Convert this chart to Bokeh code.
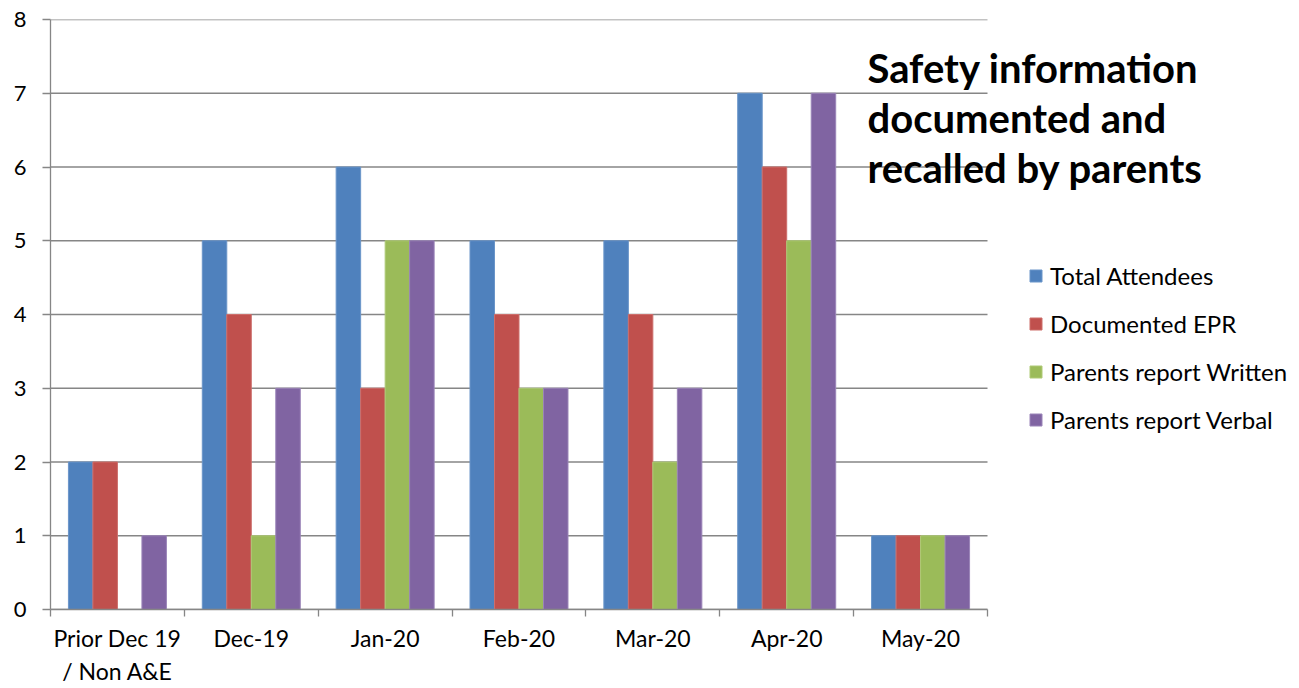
from bokeh.plotting import figure
from bokeh.models import (ColumnDataSource, FixedTicker, Legend, LegendItem, Label, Range1d)
from bokeh.embed import file_html
from bokeh.resources import INLINE

categories = ["Prior Dec 19\n/ Non A&E", "Dec-19", "Jan-20", "Feb-20", "Mar-20", "Apr-20", "May-20"]
total_attendees = [2, 5, 6, 5, 5, 7, 1]
documented_epr = [2, 4, 3, 4, 4, 6, 1]
parents_written = [0, 1, 5, 3, 2, 5, 1]
parents_verbal = [1, 3, 5, 3, 3, 7, 1]
series_names = ["Total Attendees", "Documented EPR", "Parents report Written", "Parents report Verbal"]
series_values = [total_attendees, documented_epr, parents_written, parents_verbal]
colors = ["#4F81BD", "#C0504D", "#9BBB59", "#8064A2"]
edge_colors = ["#6A95C9", "#CD6E6B", "#AFCA77", "#9A84B8"]
y_ticks = [0, 1, 2, 3, 4, 5, 6, 7, 8]
title_lines = ["Safety information", "documented and", "recalled by parents"]

FONT = "Lato"
GRID = "#868686"

n = len(categories)
centers = [i + 0.5 for i in range(n)]
bar_w = 0.183

# plot area of the bars spans 0..n over 937 px; frame runs to the right edge
W, H = 1299, 688
left, top, bottom = 50, 19, 79
plot_px = 937
x_end = n * (W - left) / plot_px

p = figure(width=W, height=H, output_backend="svg", toolbar_location=None,
           x_range=Range1d(0, x_end), y_range=Range1d(0, 8),
           min_border_left=left, min_border_right=0, min_border_top=top, min_border_bottom=bottom)
p.outline_line_color = None
p.background_fill_color = "white"
p.border_fill_color = "white"
p.xgrid.visible = False
p.ygrid.visible = False

# horizontal gridlines limited to the bar area
p.segment(x0=[0] * len(y_ticks), x1=[n] * len(y_ticks), y0=y_ticks, y1=y_ticks,
          line_color=GRID, line_width=1.3)

items = []
for k, (name, vals) in enumerate(zip(series_names, series_values)):
    xs = [c + (k - 1.5) * bar_w for c in centers]
    src = ColumnDataSource(dict(x=xs, top=vals))
    r = p.vbar(x="x", top="top", bottom=0, width=bar_w, source=src,
               fill_color=colors[k], line_color=edge_colors[k], line_width=1)
    items.append(LegendItem(label=name, renderers=[r]))

p.yaxis.ticker = FixedTicker(ticks=y_ticks)
p.yaxis.axis_line_color = GRID
p.yaxis.axis_line_width = 1.3
p.yaxis.major_tick_line_color = GRID
p.yaxis.major_tick_line_width = 1.3
p.yaxis.major_tick_in = 0
p.yaxis.major_tick_out = 8
p.yaxis.minor_tick_line_color = None
p.yaxis.major_label_text_font = FONT
p.yaxis.major_label_text_font_size = "22px"
p.yaxis.major_label_text_color = "black"
p.yaxis.major_label_standoff = 16

p.xaxis.bounds = (0, n)
p.xaxis.ticker = FixedTicker(ticks=centers, minor_ticks=list(range(n + 1)))
p.xaxis.major_label_overrides = {c: lab for c, lab in zip(centers, categories)}
p.xaxis.axis_line_color = GRID
p.xaxis.axis_line_width = 1.3
p.xaxis.major_tick_line_color = None
p.xaxis.minor_tick_line_color = GRID
p.xaxis.minor_tick_line_width = 1.3
p.xaxis.minor_tick_in = 0
p.xaxis.minor_tick_out = 7
p.xaxis.major_label_text_font = FONT
p.xaxis.major_label_text_font_size = "23px"
p.xaxis.major_label_text_color = "black"
p.xaxis.major_label_standoff = 7

legend = Legend(items=items, location=(978, 175), orientation="vertical",
                padding=0, margin=0, border_line_color=None, background_fill_alpha=0,
                glyph_width=15, glyph_height=15, label_height=20, spacing=19,
                label_standoff=7, label_text_font=FONT, label_text_font_size="24px",
                label_text_color="black")
p.add_layout(legend, "center")

for line, yy in zip(title_lines, [542, 492, 442]):
    p.add_layout(Label(x=817, y=yy, x_units="screen", y_units="screen", text=line,
                       text_font=FONT, text_font_style="bold", text_font_size="40px",
                       text_color="black", text_baseline="alphabetic", text_align="left"))

open("out.html", "w").write(file_html(p, INLINE))
